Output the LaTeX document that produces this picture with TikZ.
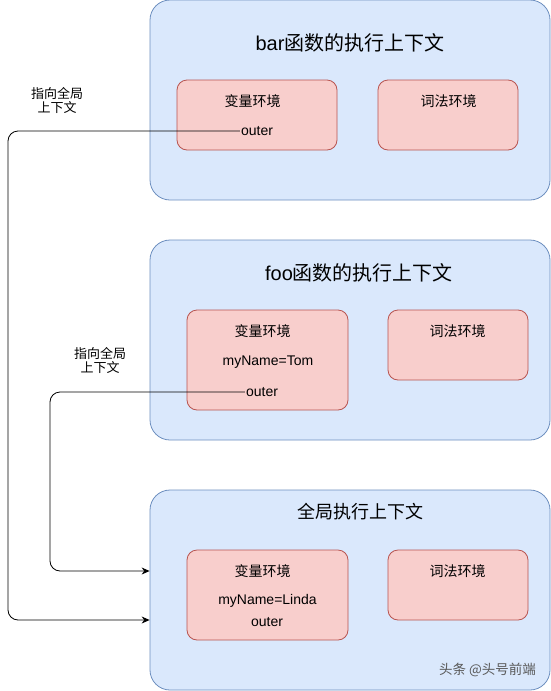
\documentclass[tikz,border=0pt]{standalone}
\usepackage{fontspec}
\setmainfont{Liberation Sans}
\newfontfamily\cjk{Noto Sans CJK SC}
\usetikzlibrary{shapes,arrows.meta}
\definecolor{ctxblue}{HTML}{DAE8FC}
\definecolor{ctxline}{HTML}{6C8EBF}
\definecolor{envred}{HTML}{F8CECC}
\definecolor{envline}{HTML}{B85450}

\begin{document}
\begin{tikzpicture}[x=1pt,y=-1pt]

\tikzstyle{ctx} = [draw=ctxline, fill=ctxblue, line width=0.8, rounded corners=20,
minimum width=400, minimum height=200, inner sep=0]
\tikzstyle{env} = [draw=envline, fill=envred, line width=0.8, rounded corners=10, inner sep=0]
\tikzstyle{title} = [inner sep=0, font=\fontsize{20}{24}\selectfont]
\tikzstyle{txt} = [inner sep=1, font=\fontsize{14}{17}\selectfont]
\tikzstyle{note} = [inner sep=0, align=center, font=\cjk\fontsize{13}{15}\selectfont]
\tikzstyle{pointer} = [draw=black, line width=0.8, rounded corners=10,
-{Stealth[length=8,width=7]}]

\useasboundingbox (0,0) rectangle (551,691);

% bar
\node [ctx] (barctx) at (350,100) {};
\node [title] (bartitle) at (350,43) {bar{\cjk 函数的执行上下文}};
\node [env, minimum width=160, minimum height=70] (barvar) at (257,115) {};
\node [env, minimum width=140, minimum height=70] (barlex) at (448,115) {};
\node [txt] (barvarname) at (252.5,101) {\cjk 变量环境};
\node [txt] (barouter) at (257,131) {outer};
\node [txt] (barlexname) at (448.5,101) {\cjk 词法环境};

% foo
\node [ctx] (fooctx) at (350,340) {};
\node [title] (footitle) at (359,273) {foo{\cjk 函数的执行上下文}};
\node [env, minimum width=161, minimum height=100] (foovar) at (267.5,360) {};
\node [env, minimum width=140, minimum height=70] (foolex) at (458,345) {};
\node [txt] (foovarname) at (262.5,331) {\cjk 变量环境};
\node [txt] (fooname) at (268,362) {myName=Tom};
\node [txt] (fooouter) at (262,392) {outer};
\node [txt] (foolexname) at (457.5,331) {\cjk 词法环境};

% global
\node [ctx] (gctx) at (350,590) {};
\node [title, font=\fontsize{18}{22}\selectfont] (gtitle) at (360.5,512) {\cjk 全局执行上下文};
\node [env, minimum width=161, minimum height=90] (gvar) at (267.5,595) {};
\node [env, minimum width=140, minimum height=70] (glex) at (458,585) {};
\node [txt] (gvarname) at (262.5,571) {\cjk 变量环境};
\node [txt] (gname) at (267.5,601) {myName=Linda};
\node [txt] (gouter) at (267,622) {outer};
\node [txt] (glexname) at (457.5,571) {\cjk 词法环境};

\node [note] (noteA) at (57,100) {指向全局\\[-1pt]上下文};
\node [note] (noteB) at (100,360) {指向全局\\[-1pt]上下文};

\node [inner sep=0, text=black!65, font=\cjk\fontsize{13.5}{16}\selectfont] (mark) at (487.5,670) {头条 @头号前端};

\coordinate (turnA) at (8,620);
\coordinate (turnB) at (50,571);
\draw [pointer] (barouter.west) -| (turnA) -- (turnA -| gctx.west);
\draw [pointer] (fooouter.west) -| (turnB) -- (turnB -| gctx.west);

\end{tikzpicture}
\end{document}
